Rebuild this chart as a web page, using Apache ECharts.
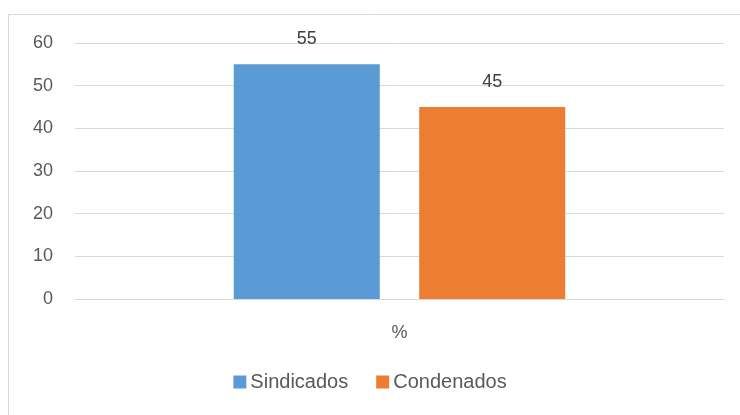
<!DOCTYPE html>
<html>
<head>
<meta charset="utf-8">
<script src="https://cdn.jsdelivr.net/npm/echarts@6/dist/echarts.min.js"></script>
<style>
  html, body { margin: 0; padding: 0; background: #fff; }
  #chart { width: 740px; height: 415px; }
</style>
</head>
<body>
<div id="chart"></div>
<script>
// datos
var categorias = ['%'];
var sindicados = [55];
var condenados = [45];
var yTicks = { min: 0, max: 60, interval: 10 };

var chart = echarts.init(document.getElementById('chart'));
var fuente = 'Liberation Sans';
var option = {
    animation: false,
    color: ['#5B9BD5', '#ED7D31'],
    textStyle: { fontFamily: fuente },
    graphic: [
        {
            type: 'rect',
            shape: { x: 8.5, y: 14.5, width: 760, height: 420 },
            style: { fill: 'none', stroke: '#D9D9D9', lineWidth: 1 },
            silent: true
        }
    ],
    grid: {
        left: 75,
        right: 16,
        top: 43,
        bottom: 116
    },
    legend: {
        bottom: 18,
        left: 'center',
        itemWidth: 13,
        itemHeight: 13,
        itemGap: 28,
        icon: 'rect',
        textStyle: { color: '#595959', fontSize: 20, fontFamily: fuente, padding: [0, 0, 0, -1] },
        data: ['Sindicados', 'Condenados']
    },
    xAxis: {
        type: 'category',
        data: categorias,
        axisTick: { show: false },
        axisLine: { lineStyle: { color: '#D9D9D9', width: 1 } },
        axisLabel: { color: '#595959', fontSize: 18, margin: 25 }
    },
    yAxis: {
        type: 'value',
        min: yTicks.min,
        max: yTicks.max,
        interval: yTicks.interval,
        axisLine: { show: false },
        axisTick: { show: false },
        axisLabel: { color: '#595959', fontSize: 18, margin: 22 },
        splitLine: { lineStyle: { color: '#D9D9D9', width: 1 } }
    },
    series: [
        {
            name: 'Sindicados',
            type: 'bar',
            data: sindicados,
            barWidth: '22.5%',
            barGap: '27%',
            label: { show: true, position: 'top', distance: 16, color: '#404040', fontSize: 18 }
        },
        {
            name: 'Condenados',
            type: 'bar',
            data: condenados,
            barWidth: '22.5%',
            label: { show: true, position: 'top', distance: 16, color: '#404040', fontSize: 18 }
        }
    ]
};
chart.setOption(option);
</script>
</body>
</html>
